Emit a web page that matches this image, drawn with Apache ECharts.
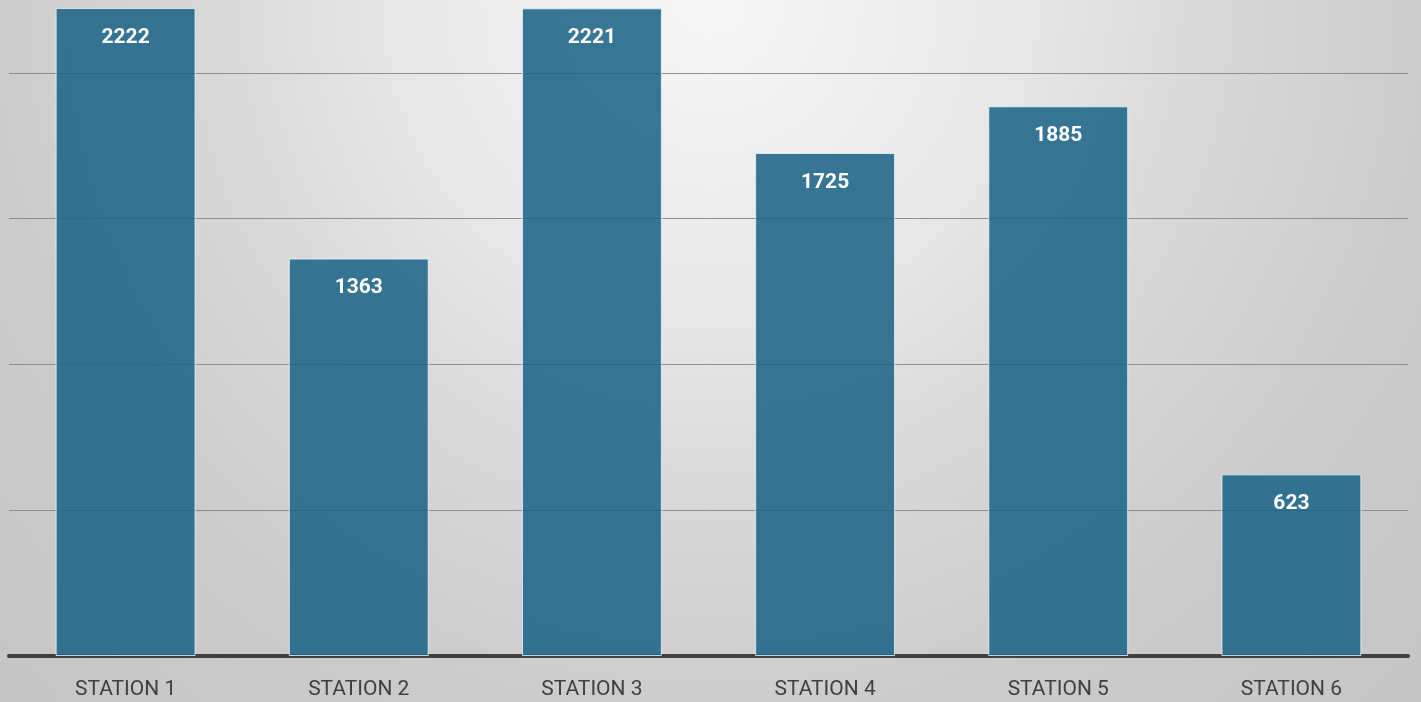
<!DOCTYPE html>
<html>
<head>
<meta charset="utf-8">
<style>
  html, body { margin: 0; padding: 0; overflow: hidden; width: 1421px; height: 702px; }
  #chart { position: relative; top: -73px; width: 1421px; height: 775px; }
</style>
<script src="https://cdn.jsdelivr.net/npm/echarts@6/dist/echarts.min.js"></script>
</head>
<body>
<div id="chart"></div>
<script>
const stations = ['STATION 1', 'STATION 2', 'STATION 3', 'STATION 4', 'STATION 5', 'STATION 6']
const counts = [2222, 1363, 2221, 1725, 1885, 623]

// chart box is taller than the window so the 2500 gridline sits above the visible area
let mychart = echarts.init(document.getElementById('chart'))
let option = {
  backgroundColor: {
    type: 'radial',
    x: 0.5, y: 0.094, r: 1.31,
    colorStops: [
      { offset: 0, color: '#f7f7f7' },
      { offset: 0.3, color: '#e8e8e8' },
      { offset: 0.5, color: '#d8d8d8' },
      { offset: 0.72, color: '#cbcbcb' },
      { offset: 1, color: '#c5c5c5' }
    ]
  },
  grid: { left: 9, right: 13, top: 0, bottom: 46, containLabel: false },
  xAxis: {
    type: 'category',
    data: stations,
    axisTick: { show: false },
    axisLine: { lineStyle: { color: '#404040', width: 4 } },
    axisLabel: {
      color: '#404040',
      fontFamily: 'Roboto',
      fontSize: 21,
      margin: 23
    }
  },
  yAxis: {
    type: 'value',
    min: 0,
    max: 2500,
    interval: 500,
    axisLabel: { show: false },
    axisLine: { show: false },
    axisTick: { show: false },
    splitLine: { lineStyle: { color: '#8f8f8f', width: 1 } }
  },
  series: [
    {
      type: 'bar',
      data: counts,
      barWidth: '60%',
      itemStyle: {
        color: 'rgba(30, 100, 135, 0.88)',
        borderColor: 'rgba(235, 245, 250, 0.8)',
        borderWidth: 1
      },
      label: {
        show: true,
        position: 'insideTop',
        distance: 19,
        color: '#ffffff',
        fontFamily: 'Roboto',
        fontWeight: 'bold',
        fontSize: 21
      }
    }
  ]
}
mychart.setOption(option)
</script>
</body>
</html>
